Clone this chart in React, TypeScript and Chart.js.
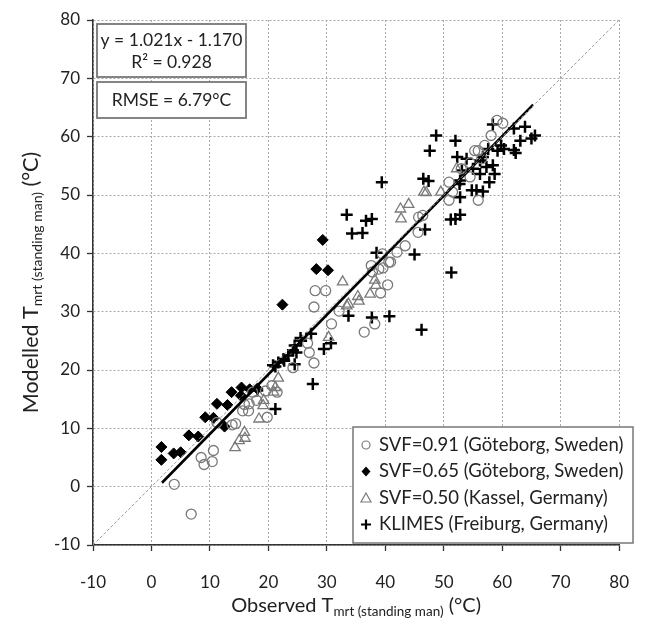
import { useEffect, useRef } from "react";
import { Chart, registerables } from "chart.js";

Chart.register(...registerables);

// ---- data ----
const svf091Obs = [3.9, 6.8, 8.5, 9.0, 10.4, 10.6, 11.2, 13.8, 14.4, 15.6, 15.9, 16.6, 16.7, 17.3, 18.0, 19.5, 19.8, 20.6, 21.5, 24.2, 26.7, 27.0, 27.8, 27.8, 28.0, 29.8, 30.8, 32.1, 36.4, 38.2, 39.2, 40.4, 37.6, 37.8, 38.9, 39.5, 39.6, 40.6, 40.9, 42.0, 43.4, 45.6, 45.7, 46.4, 50.9, 51.5, 50.9, 53.0, 54.5, 54.5, 55.3, 55.9, 56.5, 57.0, 55.9, 58.1, 59.1, 60.1];
const svf091Mod = [0.4, -4.7, 5.0, 3.8, 4.3, 6.2, 11.0, 10.6, 10.8, 13.0, 14.1, 13.0, 14.2, 16.2, 14.8, 16.4, 11.9, 17.3, 16.2, 20.4, 24.6, 23.0, 21.2, 30.8, 33.6, 33.6, 27.9, 30.1, 26.5, 27.9, 33.2, 34.6, 37.9, 36.8, 37.3, 39.9, 37.5, 38.5, 38.5, 40.2, 41.3, 43.6, 46.2, 46.5, 52.2, 50.5, 49.1, 54.5, 53.1, 55.5, 57.6, 49.1, 56.2, 58.5, 57.6, 60.2, 62.8, 62.3];

const svf065Obs = [1.7, 1.7, 3.8, 5.0, 6.4, 8.0, 9.2, 10.6, 11.2, 13.0, 12.5, 13.7, 15.4, 15.3, 16.8, 18.1, 22.4, 28.2, 30.2, 29.3];
const svf065Mod = [6.8, 4.6, 5.7, 5.9, 8.8, 8.6, 11.9, 11.8, 14.2, 14.0, 10.3, 16.2, 17.0, 15.6, 16.7, 16.8, 31.2, 37.3, 37.1, 42.3];

const svf050Obs = [14.3, 15.0, 15.9, 16.0, 18.4, 19.1, 19.2, 20.9, 21.2, 21.7, 30.3, 32.7, 33.4, 33.7, 35.3, 35.5, 37.4, 38.2, 38.4, 42.6, 44.0, 42.7, 46.6, 47.0, 49.5, 52.2];
const svf050Mod = [6.7, 7.9, 9.3, 8.3, 11.6, 13.9, 14.8, 16.2, 17.0, 18.6, 25.6, 35.1, 31.0, 31.3, 32.6, 31.8, 33.0, 35.4, 34.5, 47.6, 48.4, 45.9, 50.5, 50.4, 50.5, 54.5];

const klimesObs = [18.1, 20.8, 21.2, 21.7, 22.6, 22.7, 23.4, 24.2, 24.5, 24.8, 24.5, 25.5, 25.6, 27.3, 27.6, 29.5, 30.7, 21.2, 33.7, 37.7, 40.7, 46.2, 33.4, 34.3, 36.1, 36.7, 37.7, 38.5, 39.4, 45.0, 46.8, 51.3, 51.2, 52.0, 52.8, 46.5, 47.4, 47.6, 48.7, 52.0, 52.8, 52.7, 52.3, 53.9, 53.1, 52.8, 55.0, 56.2, 56.7, 57.6, 57.3, 58.4, 56.2, 57.8, 54.8, 56.7, 55.6, 58.7, 59.8, 59.2, 58.4, 62.0, 63.9, 63.1, 65.0, 65.6, 60.3, 62.0, 62.3];
const klimesMod = [16.5, 20.8, 20.6, 21.3, 21.9, 21.6, 22.5, 23.4, 24.2, 23.0, 21.0, 25.5, 25.0, 26.2, 17.6, 23.6, 24.6, 13.3, 29.3, 29.0, 29.2, 26.9, 46.6, 43.4, 43.5, 45.6, 45.9, 40.1, 52.2, 39.8, 44.1, 36.7, 45.8, 45.9, 46.6, 52.8, 52.4, 57.6, 60.2, 59.3, 49.6, 51.9, 56.5, 56.2, 54.2, 52.5, 54.5, 55.9, 56.5, 57.9, 54.8, 55.1, 53.6, 52.2, 50.8, 50.6, 50.8, 53.6, 58.5, 57.6, 62.1, 61.4, 61.7, 59.3, 59.7, 60.2, 57.9, 57.7, 57.2];

const fitX = [1.8, 65.3];
const fitY = [0.67, 65.5];
const oneToOneX = [-10, 80];
const oneToOneY = [-10, 80];

const axisTicks = [-10, 0, 10, 20, 30, 40, 50, 60, 70, 80];

const legendLabels = [
  "SVF=0.91 (Göteborg, Sweden)",
  "SVF=0.65 (Göteborg, Sweden)",
  "SVF=0.50 (Kassel, Germany)",
  "KLIMES (Freiburg, Germany)",
];
const equationLines = ["y = 1.021x - 1.170", "R² = 0.928"];
const rmseText = "RMSE = 6.79°C";

const FONT = "Lato, 'Open Sans', 'DejaVu Sans', sans-serif";
const GRAY = "#7a7a7a";

const pts = (xs: number[], ys: number[]) => xs.map((x, i) => ({ x, y: ys[i] }));

function drawMarker(ctx: CanvasRenderingContext2D, kind: number, x: number, y: number) {
  ctx.save();
  ctx.beginPath();
  if (kind === 0) {
    ctx.arc(x, y, 4, 0, Math.PI * 2);
    ctx.strokeStyle = GRAY;
    ctx.lineWidth = 1.2;
    ctx.stroke();
  } else if (kind === 1) {
    ctx.moveTo(x, y - 5);
    ctx.lineTo(x + 4.5, y);
    ctx.lineTo(x, y + 5);
    ctx.lineTo(x - 4.5, y);
    ctx.closePath();
    ctx.fillStyle = "#000";
    ctx.fill();
  } else if (kind === 2) {
    ctx.moveTo(x, y - 5);
    ctx.lineTo(x + 5, y + 4);
    ctx.lineTo(x - 5, y + 4);
    ctx.closePath();
    ctx.strokeStyle = GRAY;
    ctx.lineWidth = 1.2;
    ctx.stroke();
  } else {
    ctx.moveTo(x - 5, y);
    ctx.lineTo(x + 5, y);
    ctx.moveTo(x, y - 5);
    ctx.lineTo(x, y + 5);
    ctx.strokeStyle = "#000";
    ctx.lineWidth = 2.2;
    ctx.stroke();
  }
  ctx.restore();
}

function drawTitle(
  ctx: CanvasRenderingContext2D,
  main: string,
  sub: string,
  tail: string,
  size: number,
  subSize: number
) {
  ctx.font = `${size}px ${FONT}`;
  const w1 = ctx.measureText(main).width;
  const w3 = ctx.measureText(tail).width;
  ctx.font = `${subSize}px ${FONT}`;
  const w2 = ctx.measureText(sub).width;
  const total = w1 + w2 + w3;
  let x = -total / 2;
  const base = size * 0.35;
  ctx.textBaseline = "alphabetic";
  ctx.textAlign = "left";
  ctx.fillStyle = "#222";
  ctx.font = `${size}px ${FONT}`;
  ctx.fillText(main, x, base);
  x += w1;
  ctx.font = `${subSize}px ${FONT}`;
  ctx.fillText(sub, x, base + size * 0.22);
  x += w2;
  ctx.font = `${size}px ${FONT}`;
  ctx.fillText(tail, x, base);
}

const overlayPlugin = {
  id: "overlay",
  afterDraw(chart: any) {
    const ctx: CanvasRenderingContext2D = chart.ctx;
    const area = chart.chartArea;
    ctx.save();

    // equation box
    ctx.fillStyle = "#fff";
    ctx.strokeStyle = "#777";
    ctx.lineWidth = 1.8;
    ctx.fillRect(area.left + 4, area.top + 4, 149, 53);
    ctx.strokeRect(area.left + 4, area.top + 4, 149, 53);
    ctx.fillRect(area.left + 4, area.top + 62, 149, 36);
    ctx.strokeRect(area.left + 4, area.top + 62, 149, 36);
    ctx.fillStyle = "#222";
    ctx.font = `17.5px ${FONT}`;
    ctx.textAlign = "center";
    ctx.textBaseline = "middle";
    const cx = area.left + 4 + 149 / 2;
    ctx.fillText(equationLines[0], cx, area.top + 20);
    ctx.fillText(equationLines[1], cx, area.top + 42);
    ctx.fillText(rmseText, cx, area.top + 80);

    // legend
    const lx = 353, ly = 427, lw = 280, lh = 116;
    ctx.fillStyle = "#fff";
    ctx.fillRect(lx, ly, lw, lh);
    ctx.strokeStyle = "#777";
    ctx.lineWidth = 1.5;
    ctx.strokeRect(lx, ly, lw, lh);
    ctx.font = `18.5px ${FONT}`;
    ctx.textAlign = "left";
    ctx.textBaseline = "middle";
    legendLabels.forEach((label, i) => {
      const y = ly + 18 + i * 26.5;
      drawMarker(ctx, i, lx + 13, y);
      ctx.fillStyle = "#222";
      ctx.fillText(label, lx + 26, y);
    });

    // y axis title
    ctx.save();
    ctx.translate(30, (area.top + area.bottom) / 2);
    ctx.rotate(-Math.PI / 2);
    drawTitle(ctx, "Modelled T", "mrt (standing man)", " (°C)", 21.5, 14);
    ctx.restore();

    // x axis title
    ctx.save();
    ctx.translate((area.left + area.right) / 2, 605);
    drawTitle(ctx, "Observed T", "mrt (standing man)", " (°C)", 20, 13.5);
    ctx.restore();

    ctx.restore();
  },
};

function makeScale(horizontal: boolean) {
  return {
    type: "linear" as const,
    min: -10,
    max: 80,
    afterBuildTicks: (scale: any) => {
      scale.ticks = axisTicks.map((v) => ({ value: v }));
    },
    afterFit: (scale: any) => {
      if (horizontal) scale.height = 76;
      else scale.width = 93;
    },
    ticks: {
      font: { family: FONT, size: 17 },
      color: "#222",
      padding: horizontal ? 21 : 7,
      maxRotation: 0,
    },
    grid: {
      color: "#a8a8a8",
      lineWidth: 1,
      drawTicks: true,
      tickLength: 6,
      tickColor: "#333",
      tickWidth: 1.3,
      tickBorderDash: [],
    },
    border: { display: true, color: "#333", width: 1.5, dash: [2, 2] },
  };
}

export default function App() {
  const ref = useRef<HTMLCanvasElement | null>(null);
  useEffect(() => {
    if (!ref.current) return;
    const chart = new Chart(ref.current, {
      type: "scatter",
      data: {
        datasets: [
          {
            label: "1:1",
            type: "line",
            data: pts(oneToOneX, oneToOneY),
            borderColor: "#9a9a9a",
            borderWidth: 1,
            borderDash: [3, 2],
            pointRadius: 0,
            fill: false,
          } as any,
          {
            label: "fit",
            type: "line",
            data: pts(fitX, fitY),
            borderColor: "#000",
            borderWidth: 2.6,
            pointRadius: 0,
            fill: false,
          } as any,
          {
            label: legendLabels[0],
            data: pts(svf091Obs, svf091Mod),
            pointStyle: "circle",
            pointRadius: 5,
            borderColor: GRAY,
            backgroundColor: "rgba(255,255,255,0)",
            borderWidth: 1.3,
          },
          {
            label: legendLabels[1],
            data: pts(svf065Obs, svf065Mod),
            pointStyle: "rectRot",
            pointRadius: 5.5,
            borderColor: "#000",
            backgroundColor: "#000",
            borderWidth: 1,
          },
          {
            label: legendLabels[2],
            data: pts(svf050Obs, svf050Mod),
            pointStyle: "triangle",
            pointRadius: 6,
            borderColor: GRAY,
            backgroundColor: "rgba(255,255,255,0)",
            borderWidth: 1.3,
          },
          {
            label: legendLabels[3],
            data: pts(klimesObs, klimesMod),
            pointStyle: "cross",
            pointRadius: 6,
            borderColor: "#000",
            backgroundColor: "#000",
            borderWidth: 2.5,
          },
        ],
      },
      options: {
        responsive: false,
        animation: false,
        layout: { padding: { left: 0, top: 20, right: 17, bottom: 0 } },
        plugins: { legend: { display: false }, tooltip: { enabled: false } },
        scales: { x: makeScale(true), y: makeScale(false) } as any,
      },
      plugins: [overlayPlugin],
    });
    return () => chart.destroy();
  }, []);
  return (
    <div style={{ position: "fixed", left: 0, top: 0, width: 650, height: 621, background: "#fff" }}>
      <canvas ref={ref} width={650} height={621} />
    </div>
  );
}
